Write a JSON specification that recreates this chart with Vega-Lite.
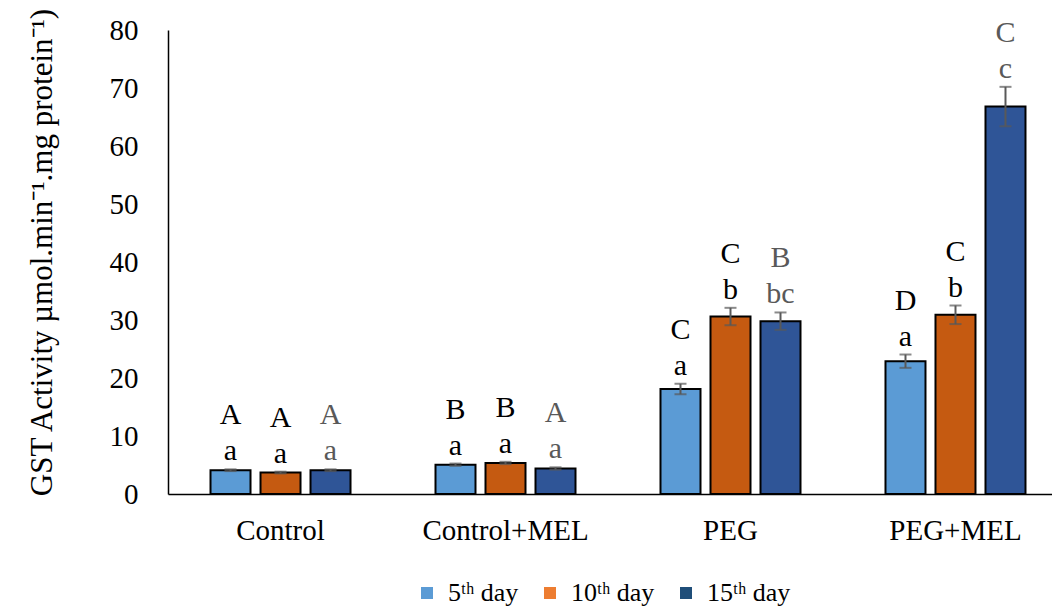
{
  "$schema": "https://vega.github.io/schema/vega-lite/v6.json",
  "width": 884,
  "height": 464,
  "autosize": {"type": "none"},
  "padding": {"left": 168, "top": 30, "right": 0, "bottom": 114},
  "config": {
    "view": {"stroke": null}
  },
  "data": {
    "values": [
      {"group": "Control", "day": "5ᵗʰ day", "mean": 4.1, "sd": 0.15, "lower": "a", "upper": "A"},
      {"group": "Control", "day": "10ᵗʰ day", "mean": 3.7, "sd": 0.15, "lower": "a", "upper": "A"},
      {"group": "Control", "day": "15ᵗʰ day", "mean": 4.1, "sd": 0.15, "lower": "a", "upper": "A"},
      {"group": "Control+MEL", "day": "5ᵗʰ day", "mean": 5.05, "sd": 0.2, "lower": "a", "upper": "B"},
      {"group": "Control+MEL", "day": "10ᵗʰ day", "mean": 5.35, "sd": 0.2, "lower": "a", "upper": "B"},
      {"group": "Control+MEL", "day": "15ᵗʰ day", "mean": 4.4, "sd": 0.2, "lower": "a", "upper": "A"},
      {"group": "PEG", "day": "5ᵗʰ day", "mean": 18.1, "sd": 0.9, "lower": "a", "upper": "C"},
      {"group": "PEG", "day": "10ᵗʰ day", "mean": 30.6, "sd": 1.5, "lower": "b", "upper": "C"},
      {"group": "PEG", "day": "15ᵗʰ day", "mean": 29.8, "sd": 1.5, "lower": "bc", "upper": "B"},
      {"group": "PEG+MEL", "day": "5ᵗʰ day", "mean": 22.9, "sd": 1.15, "lower": "a", "upper": "D"},
      {"group": "PEG+MEL", "day": "10ᵗʰ day", "mean": 30.9, "sd": 1.6, "lower": "b", "upper": "C"},
      {"group": "PEG+MEL", "day": "15ᵗʰ day", "mean": 66.8, "sd": 3.4, "lower": "c", "upper": "C"}
    ]
  },
  "transform": [
    {"calculate": "datum.mean - datum.sd", "as": "lo"},
    {"calculate": "datum.mean + datum.sd", "as": "hi"}
  ],
  "encoding": {
    "x": {
      "field": "group",
      "type": "nominal",
      "sort": ["Control", "Control+MEL", "PEG", "PEG+MEL"],
      "scale": {"range": [0, 900], "paddingInner": 0.3333, "paddingOuter": 0.1667},
      "axis": {
        "title": null,
        "labelAngle": 0,
        "domainColor": "black",
        "domainWidth": 1.5,
        "ticks": false,
        "labelPadding": 22,
        "labelFontSize": 29,
        "labelFont": "Liberation Serif",
        "labelColor": "black"
      }
    },
    "xOffset": {
      "field": "day",
      "type": "nominal",
      "sort": ["5ᵗʰ day", "10ᵗʰ day", "15ᵗʰ day"],
      "scale": {"paddingInner": 0.2, "paddingOuter": 0.1}
    }
  },
  "layer": [
    {
      "mark": {"type": "bar", "stroke": "black", "strokeWidth": 2},
      "encoding": {
        "y": {
          "field": "mean",
          "type": "quantitative",
          "scale": {"domain": [0, 80]},
          "axis": {
            "title": "GST Activity µmol.min⁻¹.mg protein⁻¹)",
            "values": [0, 10, 20, 30, 40, 50, 60, 70, 80],
            "grid": false,
            "ticks": false,
            "domainColor": "black",
            "domainWidth": 1.5,
            "labelPadding": 30,
            "labelFontSize": 29,
            "labelFont": "Liberation Serif",
            "labelColor": "black",
            "titleFont": "Liberation Serif",
            "titleFontSize": 31,
            "titleFontWeight": "normal",
            "titleColor": "black",
            "titleAngle": -90,
            "titleX": -126,
            "titleY": 222,
            "titleAlign": "center",
            "titleBaseline": "middle"
          }
        },
        "fill": {
          "field": "day",
          "type": "nominal",
          "sort": ["5ᵗʰ day", "10ᵗʰ day", "15ᵗʰ day"],
          "scale": {"range": ["#5B9BD5", "#C55A11", "#2F5597"]},
          "legend": null
        }
      }
    },
    {
      "mark": {"type": "rule", "color": "#595959", "strokeWidth": 2},
      "encoding": {
        "y": {"field": "lo", "type": "quantitative"},
        "y2": {"field": "hi"}
      }
    },
    {
      "mark": {"type": "tick", "color": "#595959", "size": 12, "thickness": 2},
      "encoding": {"y": {"field": "lo", "type": "quantitative"}}
    },
    {
      "mark": {"type": "tick", "color": "#595959", "size": 12, "thickness": 2},
      "encoding": {"y": {"field": "hi", "type": "quantitative"}}
    },
    {
      "mark": {"type": "text", "font": "Liberation Serif", "fontSize": 30, "baseline": "alphabetic", "dy": -9},
      "encoding": {
        "y": {"field": "hi", "type": "quantitative"},
        "text": {"field": "lower"},
        "color": {"condition": {"test": "datum.day === '15ᵗʰ day'", "value": "#595959"}, "value": "black"}
      }
    },
    {
      "mark": {"type": "text", "font": "Liberation Serif", "fontSize": 30, "baseline": "alphabetic", "dy": -45},
      "encoding": {
        "y": {"field": "hi", "type": "quantitative"},
        "text": {"field": "upper"},
        "color": {"condition": {"test": "datum.day === '15ᵗʰ day'", "value": "#595959"}, "value": "black"}
      }
    },
    {
      "mark": {"type": "point", "filled": true, "size": 0, "opacity": 0},
      "encoding": {
        "y": {"field": "mean", "type": "quantitative"},
        "color": {
          "field": "day",
          "type": "nominal",
          "sort": ["5ᵗʰ day", "10ᵗʰ day", "15ᵗʰ day"],
          "scale": {"range": ["#5B9BD5", "#ED7D31", "#1F4E79"]},
          "legend": {
            "title": null,
            "orient": "none",
            "legendX": 246,
            "legendY": 550,
            "direction": "horizontal",
            "symbolType": "square",
            "symbolSize": 144,
            "symbolOpacity": 1,
            "symbolStrokeWidth": 0,
            "labelFont": "Liberation Serif",
            "labelFontSize": 26,
            "labelColor": "black",
            "labelOffset": 8,
            "columnPadding": 18
          }
        }
      }
    }
  ]
}
